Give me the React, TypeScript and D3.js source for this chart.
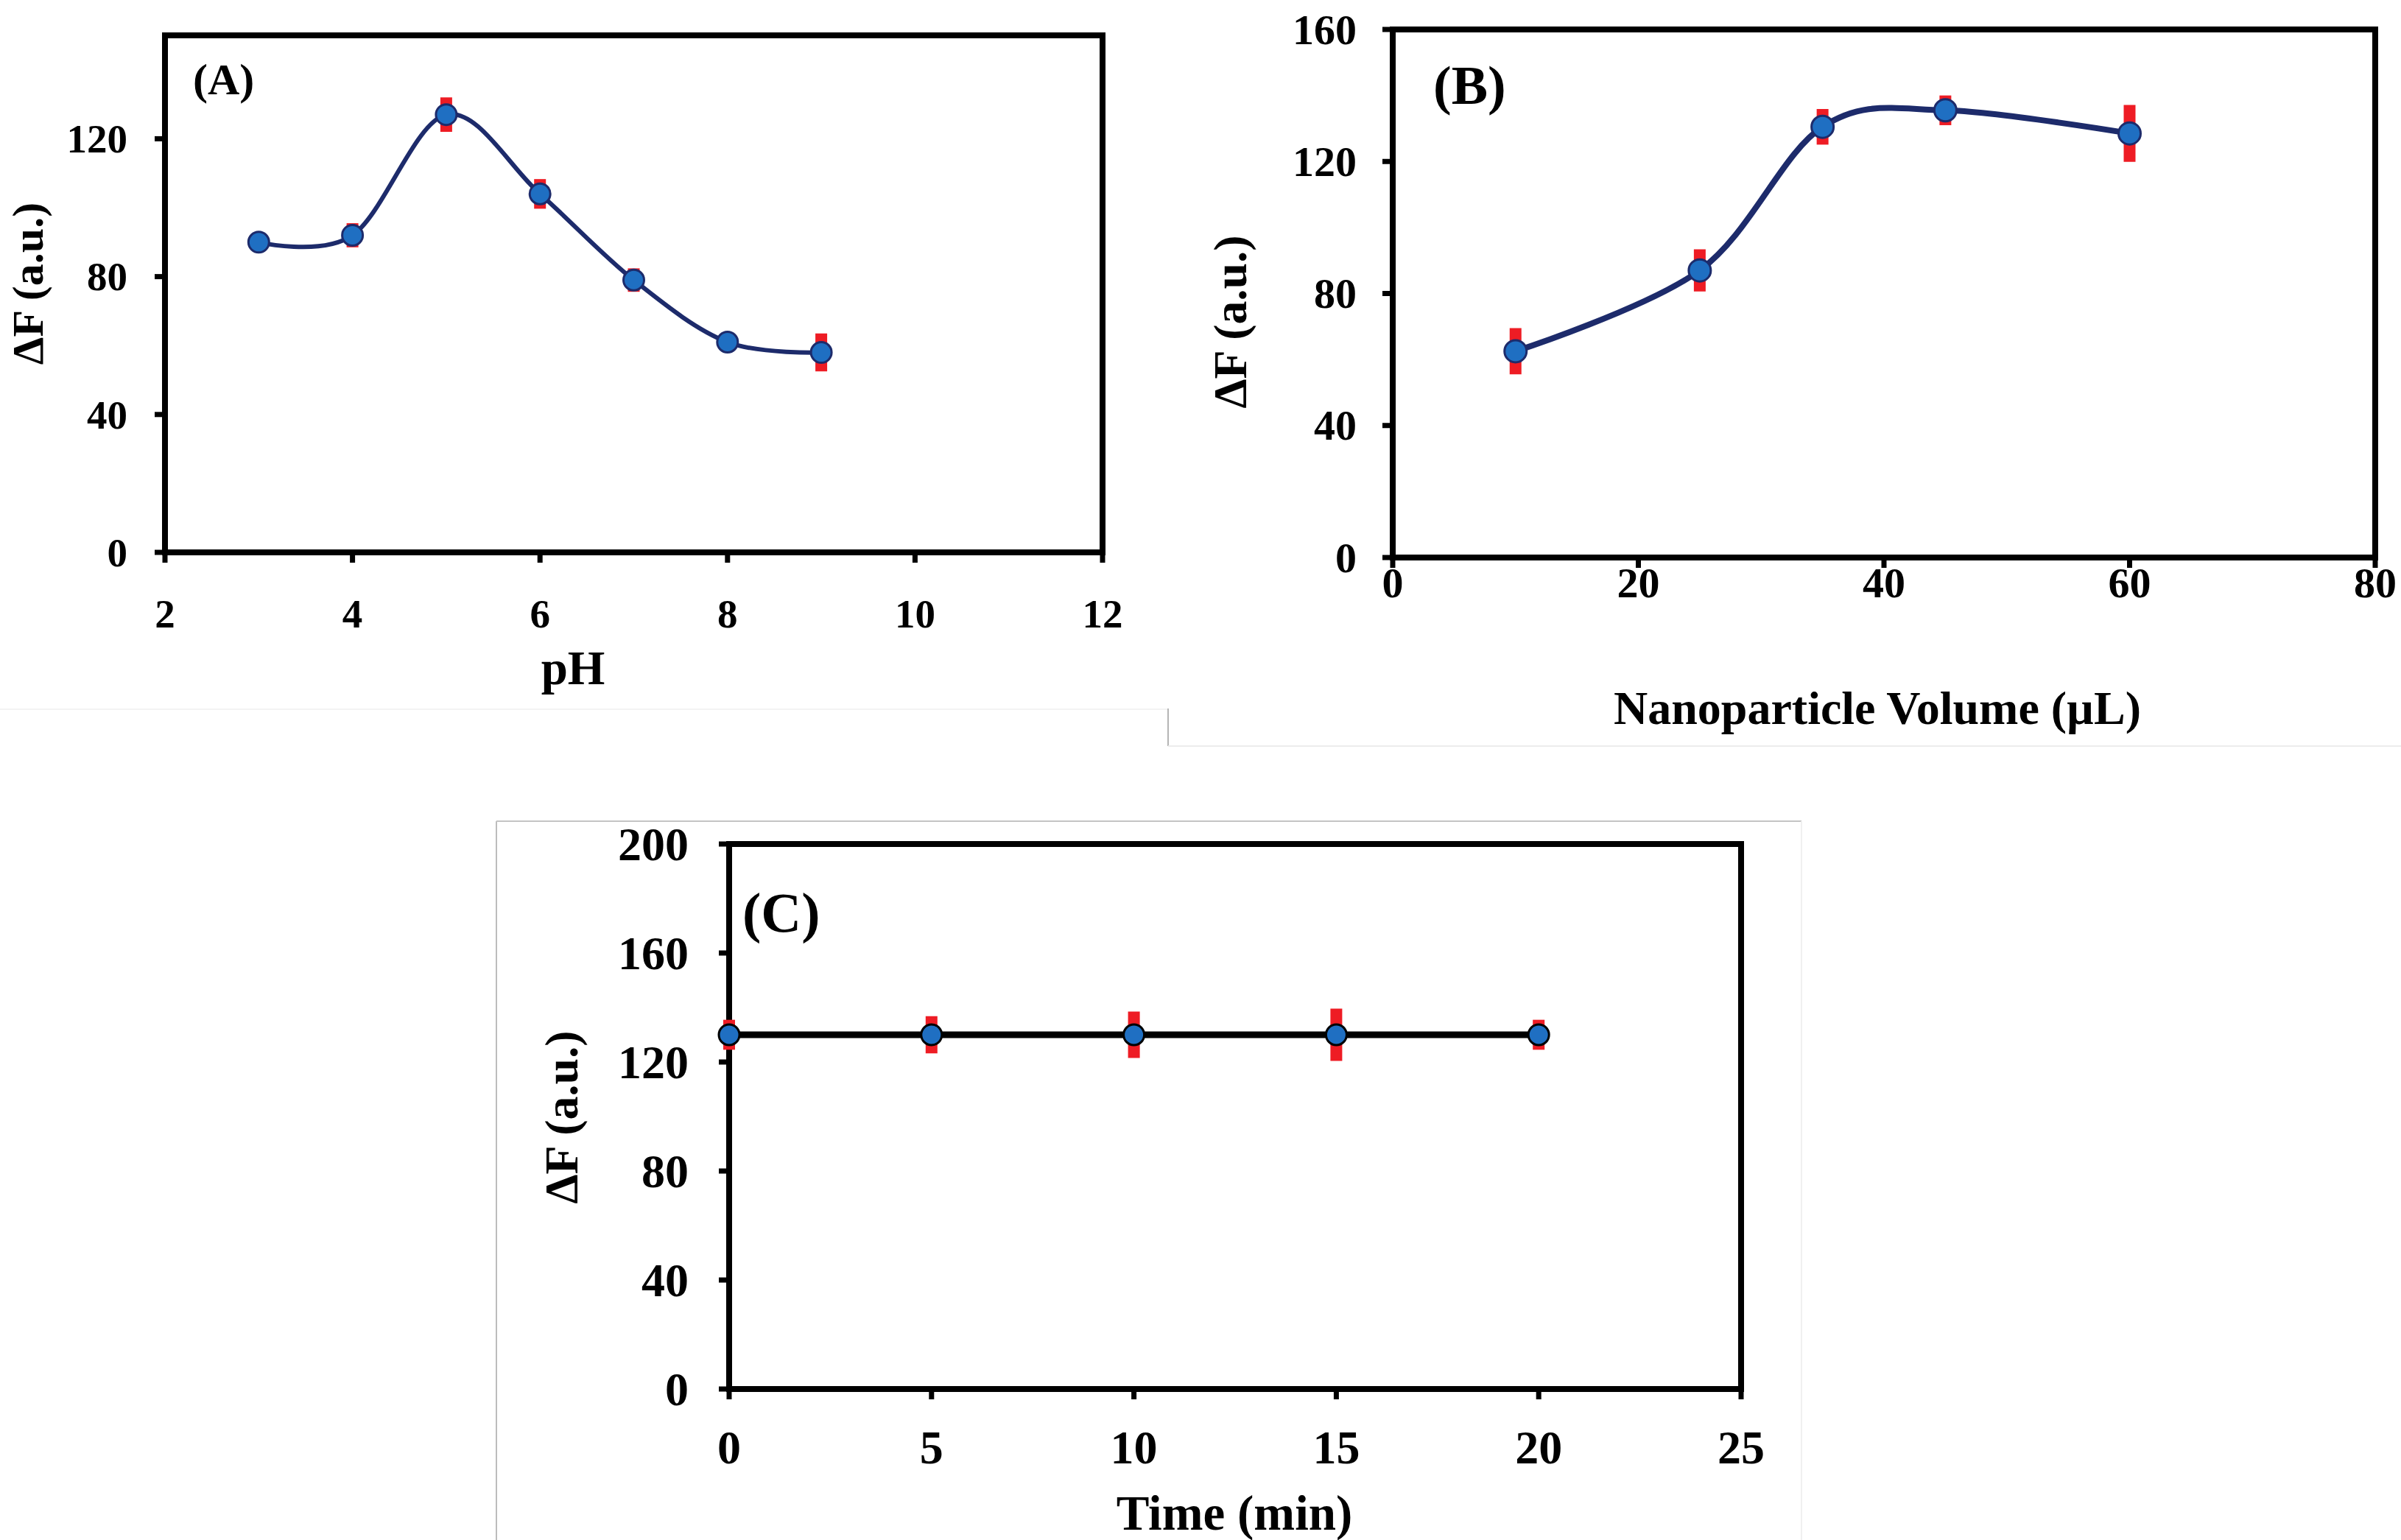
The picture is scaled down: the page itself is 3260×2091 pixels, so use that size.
import React from "react"
import { scaleLinear, line, curveCardinal } from "d3"

// (A) effect of pH
const phValues = [3, 4, 5, 6, 7, 8, 9]
const phSignal = [90, 92, 127, 104, 79, 61, 58]
const phError = [2.5, 3.5, 5, 4.3, 3.4, 2.5, 5.5]
const phTicks = [2, 4, 6, 8, 10, 12]
const phSignalTicks = [0, 40, 80, 120]

// (B) effect of nanoparticle volume
const volumeValues = [10, 25, 35, 45, 60]
const volumeSignal = [62.5, 87, 130.5, 135.5, 128.5]
const volumeError = [7, 6.4, 5.4, 4.5, 8.6]
const volumeTicks = [0, 20, 40, 60, 80]
const volumeSignalTicks = [0, 40, 80, 120, 160]

// (C) effect of incubation time
const timeValues = [0, 5, 10, 15, 20]
const timeSignal = [130, 130, 130, 130, 130]
const timeError = [5.5, 6.8, 8.5, 9.6, 5.5]
const timeTicks = [0, 5, 10, 15, 20, 25]
const timeSignalTicks = [0, 40, 80, 120, 160, 200]

const FONT = "'Liberation Serif', 'Times New Roman', serif"
const RED = "#ee1c24"
const FILL = "#1f6fc2"

function Panel(props) {
  const p = props
  const x = scaleLinear().domain(p.xDomain).range([p.left, p.right])
  const y = scaleLinear().domain(p.yDomain).range([p.bottom, p.top])
  const pts = p.xs.map((v, i) => [x(v), y(p.ys[i])])
  const path = line().curve(curveCardinal.tension(0))(pts)
  const tickLen = 14

  return (
    <g fontFamily={FONT} fontWeight="bold" fill="#000">
      {/* ticks + labels */}
      {p.yTicks.map(t => (
        <g key={"y" + t}>
          <line x1={p.left - tickLen} x2={p.left} y1={y(t)} y2={y(t)} stroke="#000" strokeWidth={7} />
          <text x={p.yLabelRight} y={y(t) + p.tickSize * 0.34} textAnchor="end" fontSize={p.tickSize}>
            {t}
          </text>
        </g>
      ))}
      {p.xTicks.map(t => (
        <g key={"x" + t}>
          <line x1={x(t)} x2={x(t)} y1={p.bottom} y2={p.bottom + tickLen} stroke="#000" strokeWidth={7} />
          <text x={x(t)} y={p.xLabelBaseline} textAnchor="middle" fontSize={p.tickSize}>
            {t}
          </text>
        </g>
      ))}
      <rect
        x={p.left}
        y={p.top}
        width={p.right - p.left}
        height={p.bottom - p.top}
        fill="none"
        stroke="#000"
        strokeWidth={8}
      />

      {/* error bars, curve, markers */}
      {p.xs.map((v, i) => (
        <line
          key={"e" + i}
          x1={x(v)}
          x2={x(v)}
          y1={y(p.ys[i] + p.errs[i])}
          y2={y(p.ys[i] - p.errs[i])}
          stroke={RED}
          strokeWidth={16}
        />
      ))}
      <path d={path} fill="none" stroke={p.lineColor} strokeWidth={p.lineWidth} />
      {pts.map((d, i) => (
        <circle key={"m" + i} cx={d[0]} cy={d[1]} r={p.r} fill={FILL} stroke={p.markerStroke} strokeWidth={3} />
      ))}

      <text x={p.labelX} y={p.labelBaseline} fontSize={p.labelSize}>
        {p.label}
      </text>
      <text x={p.titleX} y={p.titleBaseline} textAnchor="middle" fontSize={p.titleSize}>
        {p.title}
      </text>
      <text
        transform={"translate(" + p.yTitleX + "," + p.yTitleY + ") rotate(-90)"}
        textAnchor="middle"
        fontSize={p.yTitleSize}
      >
        ΔF (a.u.)
      </text>
    </g>
  )
}

export default function App() {
  return (
    <svg
      width={3260}
      height={2091}
      style={{ position: "absolute", left: 0, top: 0, display: "block", background: "#fff" }}
    >
      <rect x={0} y={0} width={3260} height={2091} fill="#fff" />

      {/* faint panel frames */}
      <line x1={0} x2={1586} y1={963} y2={963} stroke="#f3f3f3" strokeWidth={2} />
      <line x1={1586} x2={1586} y1={962} y2={1013} stroke="#b5b5b5" strokeWidth={2} />
      <line x1={1586} x2={3260} y1={1013} y2={1013} stroke="#ececec" strokeWidth={2} />
      <line x1={674} x2={674} y1={1115} y2={2091} stroke="#bdbdbd" strokeWidth={2} />
      <line x1={674} x2={2446} y1={1115} y2={1115} stroke="#c4c4c4" strokeWidth={2} />
      <line x1={2446} x2={2446} y1={1115} y2={2091} stroke="#f0f0f0" strokeWidth={2} />

      <Panel
        left={224} top={48} right={1497} bottom={750}
        xDomain={[2, 12]} yDomain={[0, 150]}
        xTicks={phTicks} yTicks={phSignalTicks}
        xs={phValues} ys={phSignal} errs={phError}
        tickSize={55} yLabelRight={173} xLabelBaseline={852}
        title="pH" titleX={778} titleBaseline={929} titleSize={65}
        yTitleX={58} yTitleY={385} yTitleSize={60}
        label="(A)" labelX={262} labelBaseline={128} labelSize={60}
        lineColor="#1d2b6b" lineWidth={6} markerStroke="#1d2b6b" r={14}
      />
      <Panel
        left={1891} top={40} right={3225} bottom={757}
        xDomain={[0, 80]} yDomain={[0, 160]}
        xTicks={volumeTicks} yTicks={volumeSignalTicks}
        xs={volumeValues} ys={volumeSignal} errs={volumeError}
        tickSize={58} yLabelRight={1842} xLabelBaseline={811}
        title="Nanoparticle Volume (µL)" titleX={2549} titleBaseline={983} titleSize={64}
        yTitleX={1692} yTitleY={437} yTitleSize={64}
        label="(B)" labelX={1946} labelBaseline={141} labelSize={74}
        lineColor="#1d2b6b" lineWidth={8} markerStroke="#1d2b6b" r={15}
      />
      <Panel
        left={990} top={1146} right={2364} bottom={1886}
        xDomain={[0, 25]} yDomain={[0, 200]}
        xTicks={timeTicks} yTicks={timeSignalTicks}
        xs={timeValues} ys={timeSignal} errs={timeError}
        tickSize={64} yLabelRight={935} xLabelBaseline={1987}
        title="Time (min)" titleX={1676} titleBaseline={2077} titleSize={67}
        yTitleX={784} yTitleY={1517} yTitleSize={64}
        label="(C)" labelX={1008} labelBaseline={1265} labelSize={76}
        lineColor="#000" lineWidth={9} markerStroke="#000" r={14}
      />
    </svg>
  )
}
